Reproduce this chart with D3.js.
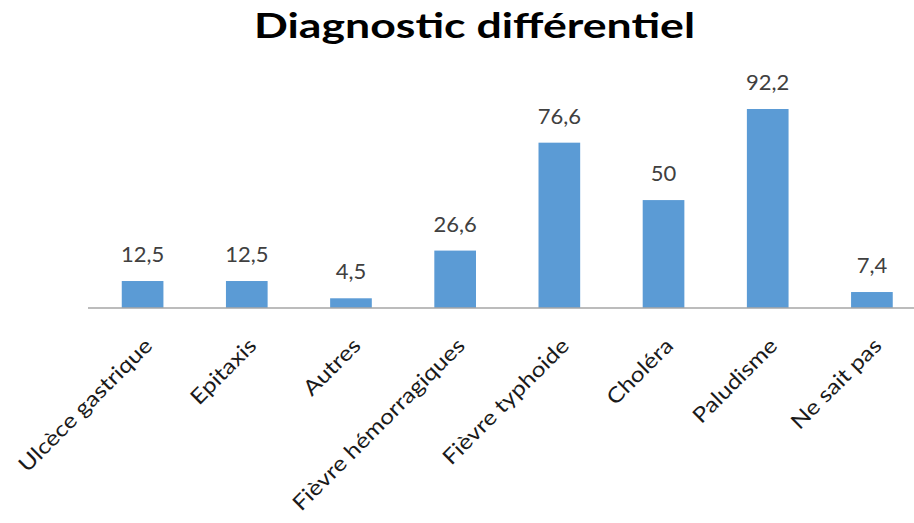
<!DOCTYPE html>
<html>
<head>
<meta charset="utf-8">
<script src="https://cdn.jsdelivr.net/npm/d3@7"></script>
<style>
  html, body { margin: 0; padding: 0; background: #ffffff; }
  svg { display: block; }
  text { font-family: Lato, "Open Sans", sans-serif; }
</style>
</head>
<body>
<svg id="chart" width="914" height="523"></svg>
<script>
// Diagnostic différentiel — percentages by suspected diagnosis
const categories = ["Ulcèce gastrique", "Epitaxis", "Autres", "Fièvre hémorragiques",
                    "Fièvre typhoide", "Choléra", "Paludisme", "Ne sait pas"];
const values = [12.5, 12.5, 4.5, 26.6, 76.6, 50, 92.2, 7.4];
const valueLabels = ["12,5", "12,5", "4,5", "26,6", "76,6", "50", "92,2", "7,4"];
const title = "Diagnostic différentiel";

const svg = d3.select("#chart");
const baseY = 308;

const x = d3.scaleBand()
  .domain(categories)
  .range([90.5, 924])
  .paddingInner(0.6)
  .paddingOuter(0.3);

const y = d3.scaleLinear()
  .domain([0, 92.2])
  .range([baseY, 109]);

// title, widened to the heading's set width
svg.append("text")
  .attr("x", 254)
  .attr("y", 38)
  .attr("font-size", 34)
  .attr("font-weight", "bold")
  .attr("fill", "#000")
  .attr("textLength", 441)
  .attr("lengthAdjust", "spacingAndGlyphs")
  .text(title);

// bars
svg.append("g").selectAll("rect")
  .data(values)
  .join("rect")
  .attr("x", (d, i) => x(categories[i]))
  .attr("width", x.bandwidth())
  .attr("y", d => y(d))
  .attr("height", d => baseY - y(d))
  .attr("fill", "#5b9bd5");

// value labels
svg.append("g").selectAll("text")
  .data(values)
  .join("text")
  .attr("x", (d, i) => x(categories[i]) + x.bandwidth() / 2)
  .attr("y", d => y(d) - 19)
  .attr("text-anchor", "middle")
  .attr("font-size", 22)
  .attr("fill", "#404040")
  .text((d, i) => valueLabels[i]);

// category axis
const axis = d3.axisBottom(x).tickSize(0).tickPadding(0);
const gx = svg.append("g")
  .attr("transform", `translate(0,${baseY})`)
  .call(axis);
gx.select(".domain")
  .attr("d", `M88,0H914`)
  .attr("stroke", "#a6a6a6")
  .attr("stroke-width", 1.5);
gx.selectAll(".tick text")
  .attr("font-family", "Lato, 'Open Sans', sans-serif")
  .attr("font-size", 21)
  .attr("fill", "#1a1a1a")
  .attr("text-anchor", "end")
  .attr("dy", 0)
  .attr("transform", "translate(11,39) rotate(-45) scale(1.17,1)");
</script>
</body>
</html>
